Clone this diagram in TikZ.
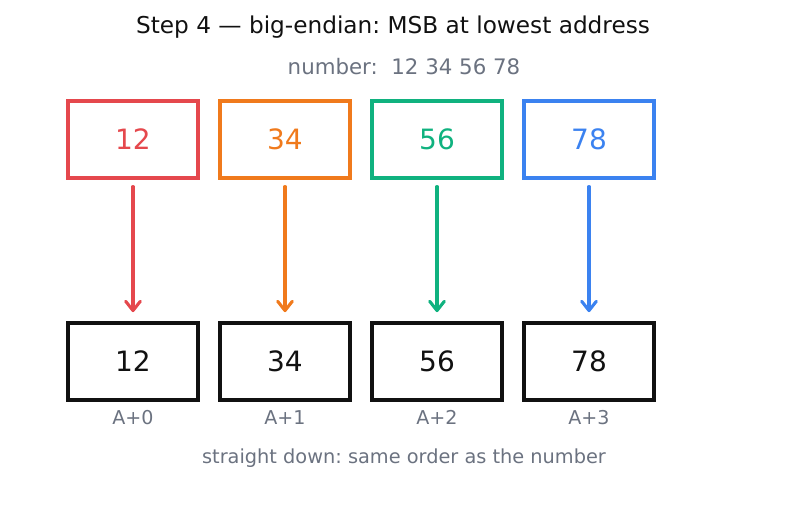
\documentclass[tikz,border=0pt]{standalone}
\usepackage{fontspec}
\setmainfont{DejaVu Sans}
\usetikzlibrary{arrows.meta}
\definecolor{cred}{HTML}{E5484D}
\definecolor{corange}{HTML}{F07A1C}
\definecolor{cgreen}{HTML}{10B27F}
\definecolor{cblue}{HTML}{3B82F0}
\definecolor{cgray}{HTML}{6B7280}
\definecolor{cblack}{HTML}{111111}
\frenchspacing
\begin{document}
\begin{tikzpicture}[x=0.75pt,y=-0.75pt,
  bytebox/.style={draw, line width=2.3pt, minimum width=97.5pt, minimum height=57.75pt, inner sep=0pt, font=\fontsize{21}{24}\selectfont},
  addr/.style={text=cgray, font=\fontsize{14.3}{16}\selectfont, inner sep=0pt, text height=1.5ex, text depth=0pt},
  arr/.style={line width=2.3pt, line cap=round, -{Straight Barb[length=7pt,width=11pt,round]}}]
\useasboundingbox (0,0) rectangle (787,510);
\node[font=\fontsize{17.4}{20}\selectfont, text=cblack, inner sep=0pt] (title) at (393,27) {Step 4 — big-endian: MSB at lowest address};
\node[font=\fontsize{16}{19}\selectfont, text=cgray, inner sep=0pt] (sub) at (404,66.5) {number:\ \ 12 34 56 78};
\foreach \i/\v/\c in {0/12/cred,1/34/corange,2/56/cgreen,3/78/cblue}{
  \node[bytebox, draw=\c, text=\c] (t\i) at (133+152*\i,139.5) {\v};
  \node[bytebox, draw=cblack, text=cblack] (b\i) at (133+152*\i,361.5) {\v};
  \node[addr] (a\i) at (133+152*\i,419) {A+\i};
  \draw[arr, draw=\c] ([yshift=-5.25pt]t\i.south) -- ([yshift=7pt]b\i.north);
}
\node[addr, font=\fontsize{14.5}{16}\selectfont, text depth=0.4ex] (foot) at (404,459) {straight down: same order as the number};
\end{tikzpicture}
\end{document}
